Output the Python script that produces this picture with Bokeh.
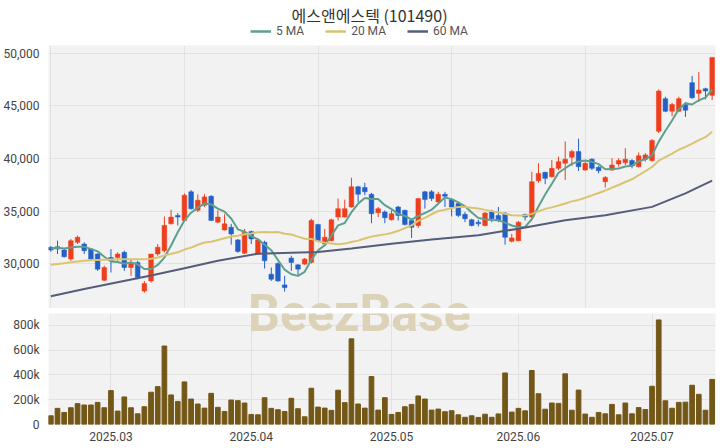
import numpy as np
from bokeh.plotting import figure
from bokeh.models import (ColumnDataSource, FixedTicker, Legend, LegendItem, Range1d,
                          NumeralTickFormatter)
from bokeh.layouts import column
from bokeh.embed import file_html
from bokeh.resources import INLINE
from bokeh.core.properties import value

# ---------------- data ----------------
opens = [31570, 31630, 31310, 30450, 32040, 31880, 31400, 30930, 28430, 30600,
         30600, 31090, 29650, 30130, 27410, 28370, 30930, 31250, 33800, 34600,
         34120, 36840, 35080, 35560, 36420, 33960, 33220, 33480, 32270, 31000,
         33060, 30930, 32040, 29010, 30030, 27990, 30540, 29900, 29970, 30130,
         33740, 31880, 32200, 34440, 34440, 35400, 37320, 37250, 36610, 34860,
         34920, 34180, 35400, 35080, 34120, 33640, 36840, 36840, 35880, 36610,
         36100, 35720, 34700, 34180, 33960, 33640, 34920, 34600, 34820, 32140,
         32200, 34700, 34440, 37890, 38690, 38280, 39070, 39550, 40130, 40670,
         38910, 39940, 39170, 37800, 38910, 39490, 39620, 39810, 39230, 39940,
         39810, 42590, 45690, 44500, 44500, 45140, 47220, 46200, 46650, 46010]
highs = [31660, 32200, 31400, 32360, 32680, 32040, 31500, 31000, 29810, 31400,
         31090, 31250, 30450, 30290, 28370, 30930, 31880, 34500, 35140, 34820,
         36680, 37000, 36600, 36610, 36520, 35080, 34700, 33800, 32360, 33320,
         33160, 32400, 32200, 29650, 30130, 28850, 30770, 29970, 30540, 34280,
         33800, 33320, 34280, 36200, 36100, 38180, 37410, 37700, 36740, 35400,
         35080, 35240, 35500, 35140, 34280, 36200, 36930, 37000, 36840, 36840,
         36200, 35780, 34920, 34280, 34180, 34920, 35140, 35400, 34920, 32840,
         34060, 34760, 38750, 39550, 38750, 39870, 40190, 41630, 40830, 41890,
         39710, 40030, 39300, 38340, 40030, 40030, 40990, 39940, 40580, 40510,
         41850, 46580, 45880, 45300, 45880, 45370, 47860, 48240, 46740, 49620]
lows = [31150, 30930, 30600, 30290, 31880, 30930, 30300, 29330, 28370, 29170,
        30290, 29330, 28850, 28530, 27250, 28210, 30770, 31090, 33740, 33640,
        34060, 35140, 34920, 35400, 34060, 33860, 33160, 31820, 31050, 30930,
        31880, 30900, 29550, 28370, 28300, 27350, 29330, 28850, 29900, 30030,
        32140, 31820, 32140, 34120, 34380, 35340, 35880, 36520, 33860, 34440,
        33860, 34120, 34120, 33640, 32460, 33420, 35240, 35970, 35780, 35400,
        34500, 34440, 33960, 33550, 33550, 33550, 33960, 33960, 31820, 32040,
        32140, 34120, 34280, 37700, 37570, 38210, 38910, 37960, 39300, 38820,
        38850, 38910, 38590, 37250, 38850, 39230, 39390, 39070, 39170, 39710,
        39710, 42430, 44410, 44030, 44410, 43960, 45690, 45370, 45620, 45560]
closes = [31310, 31400, 30670, 32200, 32520, 31250, 30450, 29490, 29650, 30290,
          30930, 29650, 30130, 28690, 28120, 30930, 31570, 33640, 34440, 34440,
          36520, 35240, 36040, 36360, 34120, 34440, 33800, 32840, 31180, 33000,
          32360, 32270, 30290, 28530, 28370, 27730, 30130, 29490, 30450, 34120,
          32200, 32520, 34180, 35240, 35240, 37320, 36610, 36840, 34760, 35240,
          34380, 34760, 34600, 33740, 33480, 36200, 36100, 36200, 36610, 36420,
          35400, 34600, 34280, 33640, 33800, 34820, 34280, 34120, 32520, 32460,
          33960, 34440, 37800, 38590, 38120, 39070, 39710, 39940, 40670, 39230,
          39550, 39070, 38850, 38210, 39390, 39810, 39940, 39300, 40260, 40350,
          41730, 46420, 44500, 45140, 45690, 44600, 45780, 46520, 46420, 49620]
volumes = [70000, 130000, 97000, 135000, 168000, 157000, 157000, 178000, 135000, 273000,
           108000, 222000, 135000, 86000, 143000, 260000, 305000, 632000, 238000, 186000,
           343000, 205000, 165000, 132000, 251000, 138000, 105000, 197000, 192000, 173000,
           81000, 78000, 216000, 130000, 119000, 105000, 211000, 127000, 62000, 292000,
           140000, 132000, 114000, 276000, 176000, 690000, 165000, 132000, 386000, 116000,
           216000, 81000, 97000, 143000, 162000, 230000, 205000, 116000, 124000, 103000,
           111000, 78000, 58000, 70000, 57000, 83000, 58000, 85000, 415000, 100000,
           130000, 110000, 435000, 248000, 123000, 173000, 170000, 408000, 115000, 277000,
           84000, 58000, 97000, 86000, 162000, 78000, 173000, 86000, 136000, 120000,
           308000, 842000, 191000, 131000, 178000, 180000, 316000, 243000, 115000, 363000]

# moving-average values before enough closes are visible
ma5_head = [31450, 31520, 31450, 31550]
ma20_head = [29900, 29980, 30060, 30140, 30220, 30280, 30330, 30360, 30380, 30400,
             30420, 30440, 30440, 30430, 30420, 30480, 30600, 30780, 30950]
# 60-day MA (needs history not shown)
ma60_idx = [0, 5, 10, 15, 20, 25, 31, 36, 40, 45, 51, 57, 64, 70, 77, 83, 90, 95, 99]
ma60_val = [26910, 27600, 28250, 28890, 29580, 30280, 30960, 31050, 31110, 31450,
            31910, 32300, 32710, 33340, 34140, 34620, 35410, 36700, 37900]

month_ticks = [9, 30, 51, 70, 90]
month_labels = ["2025.03", "2025.04", "2025.05", "2025.06", "2025.07"]
price_ticks = [30000, 35000, 40000, 45000, 50000]
vol_ticks = [0, 200000, 400000, 600000, 800000]
vol_labels = ["0", "200k", "400k", "600k", "800k"]
title_text = "에스앤에스텍 (101490)"
legend_labels = ["5 MA", "20 MA", "60 MA"]

# ---------------- derived ----------------
n = len(closes)
idx = list(range(n))
c = np.array(closes, dtype=float)


def rolling(head, w):
    out = list(head)
    for i in range(len(head), n):
        out.append(float(c[i - w + 1:i + 1].mean()))
    return out


ma5 = rolling(ma5_head, 5)
ma20 = rolling(ma20_head, 20)

UP = "#ee3f1c"
DOWN = "#2360c8"
C5, C20, C60 = "#5e9f8e", "#d9c46f", "#555d78"
VOLC = "#735717"
WM = "#dbd2b8"
colors = [UP if cl >= op else DOWN for op, cl in zip(opens, closes)]
src = ColumnDataSource(dict(
    x=idx, o=opens, h=highs, l=lows, c=closes, v=volumes, color=colors,
    top=[max(a, b) for a, b in zip(opens, closes)],
    bot=[min(a, b) for a, b in zip(opens, closes)],
    ma5=ma5, ma20=ma20,
))

FONT = "Roboto"
W = 718
LB, RB = 46, 3
FW = W - LB - RB          # frame width (frames are aligned by the column)
xr = Range1d(-0.35, 99.5)

# ---------------- header (title + legend) ----------------
HH = 38
h = figure(width=W, height=HH, x_range=Range1d(0, FW), y_range=Range1d(0, HH),
           output_backend="svg", toolbar_location=None,
           x_axis_location=None, y_axis_location=None,
           min_border_left=LB, min_border_right=RB, min_border_top=0, min_border_bottom=0)
h.grid.visible = False
h.outline_line_color = None
h.background_fill_color = "white"
h.border_fill_color = "white"
h.text(x=[368 - LB], y=[HH - 14.5], text=[title_text], text_font=value("Noto Sans CJK KR"),
       text_font_size="16px", text_color="#333333", text_align="center",
       text_baseline="middle")
# off-screen stand-ins so the legend can show the MA line styles
dummy = [h.line(x=[-50, -40], y=[-50, -50], line_color=col, line_width=2.5)
         for col in (C5, C20, C60)]
legend = Legend(items=[LegendItem(label=lab, renderers=[r])
                       for lab, r in zip(legend_labels, dummy)],
                orientation="horizontal", location=(248 - LB, 0),
                glyph_width=21, glyph_height=12, label_height=12,
                label_text_font=FONT, label_text_font_size="12px",
                label_text_color="#555555", label_standoff=5, spacing=21,
                padding=0, margin=0, border_line_color=None,
                background_fill_alpha=0)
h.add_layout(legend, "center")

# ---------------- price panel ----------------
p = figure(width=W, height=270, x_range=xr, y_range=Range1d(25750, 50750),
           output_backend="svg", toolbar_location=None,
           min_border_left=LB, min_border_right=RB, min_border_top=7, min_border_bottom=0)
p.background_fill_color = "#f2f2f2"
p.border_fill_color = "white"
p.outline_line_color = None

p.xaxis.visible = False
p.xgrid.ticker = FixedTicker(ticks=[0, 20, 40, 60, 80])
p.xgrid.grid_line_color = "#e2e2e2"
p.ygrid.grid_line_color = "#e2e2e2"
p.yaxis.ticker = FixedTicker(ticks=price_ticks)
p.yaxis.formatter = NumeralTickFormatter(format="0,0")
p.yaxis.axis_line_color = None
p.yaxis.major_tick_line_color = None
p.yaxis.minor_tick_line_color = None
p.yaxis.major_label_standoff = 3
p.yaxis.major_label_text_font = FONT
p.yaxis.major_label_text_font_size = "12px"
p.yaxis.major_label_text_color = "#444444"

# watermark (spans both panels); anchor kept inside the range, shifted in pixels
p.text(x=[46.2], y=[25800], text=["BeezBase"], text_font=value(FONT),
       text_font_style="bold", text_font_size="50px", text_color=WM,
       text_align="center", text_baseline="alphabetic", y_offset=5.5)

p.segment(x0="x", x1="x", y0="l", y1="h", color="color", line_width=1, source=src)
p.vbar(x="x", width=0.7, top="top", bottom="bot", fill_color="color",
       line_color="color", line_width=0.5, source=src)
p.line("x", "ma5", source=src, line_color=C5, line_width=2)
p.line("x", "ma20", source=src, line_color=C20, line_width=2)
p.line(ma60_idx, ma60_val, line_color=C60, line_width=2)

# ---------------- volume panel ----------------
v = figure(width=W, height=135, x_range=xr, y_range=Range1d(0, 894000),
           output_backend="svg", toolbar_location=None,
           min_border_left=LB, min_border_right=RB, min_border_top=5, min_border_bottom=0)
v.background_fill_color = "#f2f2f2"
v.border_fill_color = "white"
v.outline_line_color = None
v.xgrid.grid_line_color = "#e2e2e2"
v.ygrid.grid_line_color = "#e2e2e2"
v.xaxis.ticker = FixedTicker(ticks=month_ticks)
v.xaxis.major_label_overrides = {t: s for t, s in zip(month_ticks, month_labels)}
v.yaxis.ticker = FixedTicker(ticks=vol_ticks)
v.yaxis.major_label_overrides = {t: s for t, s in zip(vol_ticks, vol_labels)}
for ax in (v.xaxis, v.yaxis):
    ax.axis_line_color = None
    ax.major_tick_line_color = None
    ax.minor_tick_line_color = None
    ax.major_label_text_font = FONT
    ax.major_label_text_font_size = "12px"
    ax.major_label_text_color = "#444444"
v.xaxis.major_label_standoff = 1
v.yaxis.major_label_standoff = 3

v.text(x=[46.2], y=[893000], text=["BeezBase"], text_font=value(FONT),
       text_font_style="bold", text_font_size="50px", text_color=WM,
       text_align="center", text_baseline="alphabetic")
v.vbar(x="x", width=0.7, top="v", bottom=0, fill_color=VOLC,
       line_color=VOLC, source=src)

layout = column(h, p, v, spacing=0)
open("out.html", "w").write(file_html(layout, INLINE))
